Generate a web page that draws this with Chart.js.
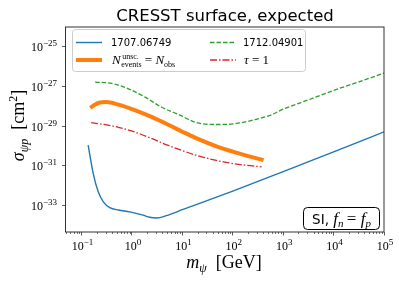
<!DOCTYPE html>
<html>
<head>
<meta charset="utf-8">
<script src="https://cdn.jsdelivr.net/npm/chart.js@4"></script>
<style>
html, body { margin: 0; padding: 0; background: #fff; }
#wrap { width: 399px; height: 281px; }
</style>
</head>
<body>
<div id="wrap"><canvas id="chartCanvas"></canvas></div>
<script>
// masses in GeV, cross sections in cm^2
const massA = [0.135, 0.17, 0.214, 0.27, 0.363, 0.54, 0.91, 1.66, 2.24, 3.1, 4.8, 10, 22, 100, 1000, 1e4, 1e5]
const sigmaA = [1.1e-30, 4.1e-32, 4.8e-33, 1.5e-33, 7.6e-34, 5.8e-34, 4.7e-34, 3.2e-34, 2.5e-34, 2.3e-34, 3.0e-34, 6.0e-34, 1.26e-33, 5.2e-33, 5.0e-32, 5.0e-31, 5.1e-30]

const massB = [0.148, 0.219, 0.316, 0.537, 1.17, 2.51, 5.25, 10, 17.8, 44.7, 112, 407]
const sigmaB = [8.3e-29, 1.51e-28, 1.62e-28, 1.2e-28, 6.2e-29, 2.8e-29, 1.17e-29, 5.2e-30, 2.6e-30, 1.0e-30, 4.7e-31, 1.9e-31]

const massC = [0.186, 0.398, 0.851, 1.82, 3.89, 9.12, 17.8, 44.7, 112, 275, 550, 1000, 3160, 1e4, 31600, 1e5]
const sigmaC = [1.66e-27, 1.41e-27, 7.6e-28, 2.9e-28, 8.9e-29, 3.5e-29, 1.58e-29, 1.2e-29, 1.32e-29, 2.1e-29, 3.5e-29, 7.1e-29, 2.1e-28, 6.3e-28, 1.7e-27, 4.7e-27]

const massD = [0.155, 0.295, 0.537, 1.17, 2.51, 5.25, 10, 17.8, 44.7, 112, 372]
const sigmaD = [1.48e-29, 1.17e-29, 8.7e-30, 4.9e-30, 2.3e-30, 1.05e-30, 5.8e-31, 3.5e-31, 1.9e-31, 1.23e-31, 8.7e-32]

const xTicks = [1e-1, 1e0, 1e1, 1e2, 1e3, 1e4, 1e5]
const yTicks = [1e-33, 1e-31, 1e-29, 1e-27, 1e-25]
const xRange = [0.048, 1e5]
const yRange = [4.5e-35, 1e-24]

const SERIF = '"Liberation Serif", "DejaVu Serif", serif'
const SANS = '"DejaVu Sans", sans-serif'

function expOf(v) {
	return String(Math.round(Math.log10(v))).replace('-', '\u2212')
}

function pts(xs, ys) {
	return xs.map((x, i) => ({x: x, y: ys[i]}))
}

function line(label, color, width, dash, data) {
	return {
		label: label,
		data: data,
		borderColor: color,
		backgroundColor: color,
		borderWidth: width,
		borderDash: dash,
		pointRadius: 0,
		fill: false,
		cubicInterpolationMode: 'monotone'
	}
}

// draw a run of [text, font, dy] pieces, returns width
function rich(ctx, parts, x, y, align) {
	let w = 0
	parts.forEach(p => { ctx.font = p[1]; w += ctx.measureText(p[0]).width })
	let cx = x
	if (align == 'center') cx = x - w / 2
	if (align == 'right') cx = x - w
	ctx.textAlign = 'left'
	ctx.textBaseline = 'alphabetic'
	parts.forEach(p => {
		ctx.font = p[1]
		ctx.fillText(p[0], cx, y + (p[2] || 0))
		cx += ctx.measureText(p[0]).width
	})
	return w
}

function tickParts(v) {
	return [['10', '12px ' + SERIF], [expOf(v), '9px ' + SERIF, -5]]
}

const decor = {
	id: 'decor',
	afterDatasetsDraw(chart) {
		const ctx = chart.ctx
		const a = chart.chartArea
		const xs = chart.scales.x
		const ys = chart.scales.y
		ctx.save()
		// frame
		ctx.strokeStyle = '#333'
		ctx.lineWidth = 1
		ctx.strokeRect(a.left, a.top, a.right - a.left, a.bottom - a.top)
		// minor ticks on the x axis
		ctx.lineWidth = 0.7
		ctx.beginPath()
		for (let k = -2; k < 5; k++) {
			for (let d = 2; d < 10; d++) {
				let v = d * Math.pow(10, k)
				if (v < xRange[0] || v > xRange[1]) continue
				let px = Math.round(xs.getPixelForValue(v)) + 0.5
				ctx.moveTo(px, a.bottom)
				ctx.lineTo(px, a.bottom + 2)
			}
		}
		ctx.stroke()
		// tick labels
		ctx.fillStyle = '#000'
		xTicks.forEach(v => rich(ctx, tickParts(v), xs.getPixelForValue(v) + 1, 250, 'center'))
		yTicks.forEach(v => rich(ctx, tickParts(v), 57, ys.getPixelForValue(v) + 4.5, 'right'))

		// legend
		ctx.fillStyle = 'rgba(255,255,255,0.8)'
		ctx.strokeStyle = '#cccccc'
		ctx.lineWidth = 1
		ctx.beginPath()
		ctx.roundRect(72.5, 29.5, 233, 42, 3)
		ctx.fill()
		ctx.stroke()
		const ds = chart.data.datasets
		const slots = [[76, 42.5], [76, 60], [210, 42.5], [210, 60]]
		slots.forEach((s, i) => {
			ctx.strokeStyle = ds[i].borderColor
			ctx.lineWidth = ds[i].borderWidth
			ctx.setLineDash(ds[i].borderDash || [])
			ctx.beginPath()
			ctx.moveTo(s[0], s[1])
			ctx.lineTo(s[0] + 26, s[1])
			ctx.stroke()
		})
		ctx.setLineDash([])
		ctx.fillStyle = '#000'
		rich(ctx, [[ds[0].label, '10px ' + SANS]], 111, 46)
		rich(ctx, [[ds[2].label, '10px ' + SANS]], 243, 46)
		// N^unsc._events = N_obs
		let x0 = 112, y0 = 64
		ctx.font = 'italic 13px ' + SERIF
		ctx.textAlign = 'left'
		ctx.fillText('N', x0, y0)
		x0 += ctx.measureText('N').width + 0.5
		ctx.font = '8px ' + SERIF
		ctx.fillText('unsc.', x0 + 1, y0 - 5.5)
		ctx.fillText('events', x0, y0 + 3)
		x0 += Math.max(ctx.measureText('unsc.').width + 1, ctx.measureText('events').width)
		rich(ctx, [[' = ', '13px ' + SERIF], ['N', 'italic 13px ' + SERIF], ['obs', '8px ' + SERIF, 3]], x0, y0)
		rich(ctx, [['τ', 'italic 13px ' + SERIF], [' = 1', '13px ' + SERIF]], 244, 64)

		// annotation box
		ctx.fillStyle = '#fff'
		ctx.strokeStyle = '#000'
		ctx.lineWidth = 1
		ctx.beginPath()
		ctx.roundRect(303.5, 207.5, 76, 22, 4)
		ctx.fill()
		ctx.stroke()
		ctx.fillStyle = '#000'
		rich(ctx, [['SI, ', '13.5px ' + SANS], ['f', 'italic 17px ' + SERIF], ['n', 'italic 11px ' + SERIF, 3],
			['\u2009= ', '17px ' + SERIF], ['f', 'italic 17px ' + SERIF], ['p', 'italic 11px ' + SERIF, 3]], 341.5, 223.5, 'center')
		ctx.restore()
	},
	afterDraw(chart) {
		const ctx = chart.ctx
		ctx.save()
		ctx.fillStyle = '#000'
		rich(ctx, [['CRESST surface, expected', '16.5px ' + SANS]], 225, 20.5, 'center')
		rich(ctx, [['m', 'italic 18px ' + SERIF], ['ψ', 'italic 12px ' + SERIF, 3.5], ['  [GeV]', '18px ' + SERIF]], 224, 268, 'center')
		ctx.translate(24, 125.5)
		ctx.rotate(-Math.PI / 2)
		rich(ctx, [['σ', 'italic 18px ' + SERIF], ['ψp', 'italic 12px ' + SERIF, 3.5], ['  [cm', '18px ' + SERIF],
			['2', '12px ' + SERIF, -7], [']', '18px ' + SERIF]], 0, 0, 'center')
		ctx.restore()
	}
}

function initChart() {
	const config = {
		type: 'line',
		data: {
			datasets: [
				line('1707.06749', '#1f77b4', 1.4, [], pts(massA, sigmaA)),
				line('N_events^unsc. = N_obs', '#ff7f0e', 4, [], pts(massB, sigmaB)),
				line('1712.04901', '#2ca02c', 1.3, [4.5, 2], pts(massC, sigmaC)),
				line('τ = 1', '#d62728', 1.3, [7, 2, 1.5, 2], pts(massD, sigmaD))
			]
		},
		options: {
			responsive: true,
			maintainAspectRatio: false,
			animation: false,
			layout: { padding: { top: 27, right: 15, left: 0, bottom: 0 } },
			plugins: { legend: { display: false }, title: { display: false }, tooltip: { enabled: false } },
			scales: {
				x: {
					type: 'logarithmic',
					min: xRange[0],
					max: xRange[1],
					afterBuildTicks: s => { s.ticks = xTicks.map(v => ({value: v})) },
					afterFit: s => { s.height = 49 },
					border: { display: false },
					grid: { drawOnChartArea: false, drawTicks: true, tickLength: 3.5, tickColor: '#333', tickWidth: 0.8 },
					ticks: { display: false }
				},
				y: {
					type: 'logarithmic',
					min: yRange[0],
					max: yRange[1],
					afterBuildTicks: s => { s.ticks = yTicks.map(v => ({value: v})) },
					afterFit: s => { s.width = 65.5 },
					border: { display: false },
					grid: { drawOnChartArea: false, drawTicks: true, tickLength: 3.5, tickColor: '#333', tickWidth: 0.8 },
					ticks: { display: false }
				}
			}
		},
		plugins: [decor]
	}
	window.myChart = new Chart(document.getElementById('chartCanvas'), config)
}

window.onload = function() {
	initChart()
}
</script>
</body>
</html>
